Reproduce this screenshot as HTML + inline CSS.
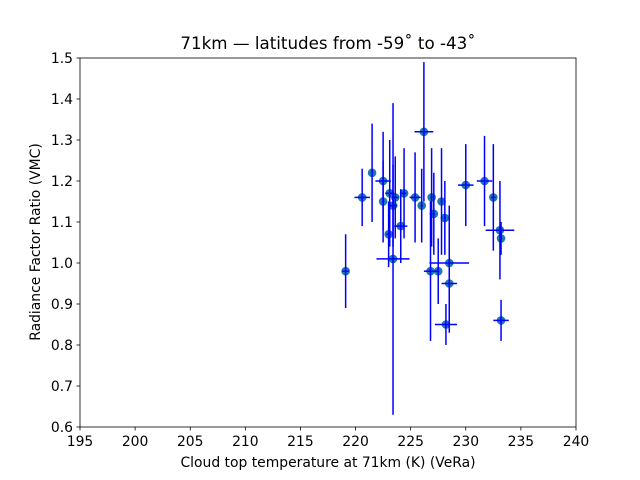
<!DOCTYPE html>
<html><head><meta charset="utf-8"><style>
body{margin:0;background:#fff;}
svg{display:block;font-family:"DejaVu Sans","Liberation Sans",sans-serif;}
</style></head><body>
<svg id="chart" width="640" height="480" viewBox="0 0 640 480">
<rect width="640" height="480" fill="#fff"/>
<g id="marks"></g>
<g id="axes"></g>
<text x="328" y="49" text-anchor="middle" font-size="16.7">71km — latitudes from -59˚ to -43˚</text>
<text x="328" y="467" text-anchor="middle" font-size="13.9">Cloud top temperature at 71km (K) (VeRa)</text>
<text transform="translate(40,242) rotate(-90)" text-anchor="middle" font-size="13.9">Radiance Factor Ratio (VMC)</text>
</svg>
<script>
const xVals=[219.1,220.6,221.5,222.5,222.5,223.1,223.6,223.4,223.4,223.0,224.1,224.4,225.4,226.0,226.2,226.9,227.1,227.8,228.1,226.8,227.5,228.5,228.5,228.2,230.0,231.7,232.5,233.1,233.2,233.2];
const yVals=[0.98,1.16,1.22,1.20,1.15,1.17,1.16,1.14,1.01,1.07,1.09,1.17,1.16,1.14,1.32,1.16,1.12,1.15,1.11,0.98,0.98,1.00,0.95,0.85,1.19,1.20,1.16,1.08,1.06,0.86];
const yErr=[0.09,0.07,0.12,0.12,0.10,0.13,0.10,0.10,0.38,0.08,0.09,0.11,0.11,0.09,0.17,0.12,0.10,0.13,0.09,0.17,0.08,0.14,0.12,0.05,0.10,0.11,0.13,0.12,0.04,0.05];
const xErr=[0.3,0.7,0,0.7,0.1,0.4,0.3,0.4,1.5,0.2,0.6,0.2,0.5,0.1,0.85,0.1,0.1,0.1,0.1,0.6,0.1,1.8,0.7,1.0,0.7,0.7,0.2,1.3,0.1,0.7];
const xTicks=[195,200,205,210,215,220,225,230,235,240];
const yTicks=[0.6,0.7,0.8,0.9,1.0,1.1,1.2,1.3,1.4,1.5];
const L=80,R=576,T=58,B=427,xMin=195,xMax=240,yMin=0.6,yMax=1.5;
const sx=v=>L+(v-xMin)/(xMax-xMin)*(R-L);
const sy=v=>B-(v-yMin)/(yMax-yMin)*(B-T);
const NS='http://www.w3.org/2000/svg';
function mk(tag,attrs,parent){const e=document.createElementNS(NS,tag);for(const k in attrs)e.setAttribute(k,attrs[k]);parent.appendChild(e);return e;}
const marks=document.getElementById('marks'),axes=document.getElementById('axes');
xVals.forEach((x,i)=>{
  const c=mk('circle',{cx:sx(x),cy:sy(yVals[i]),r:4.3,fill:'#1f77b4'},marks);
  
  
});
xVals.forEach((x,i)=>{
  const v=mk('line',{x1:sx(x),x2:sx(x),y1:sy(yVals[i]-yErr[i]),y2:sy(yVals[i]+yErr[i]),stroke:'#0000ff','stroke-width':1.5},marks);
  
  
  if(xErr[i]>0){
    const h=mk('line',{x1:sx(x-xErr[i]),x2:sx(x+xErr[i]),y1:sy(yVals[i]),y2:sy(yVals[i]),stroke:'#0000ff','stroke-width':1.5},marks);
    
    
  }
});
const f=mk('rect',{x:L,y:T,width:R-L,height:B-T,fill:'none',stroke:'#000','stroke-width':0.8},axes);


xTicks.forEach(t=>{
  mk('line',{x1:sx(t),x2:sx(t),y1:B,y2:B+3.5,stroke:'#000','stroke-width':0.8},axes);
  const tx=mk('text',{x:sx(t),y:B+19,'text-anchor':'middle','font-size':13.9},axes);
  tx.textContent=t;
  
  
});
yTicks.forEach(t=>{
  mk('line',{x1:L-3.5,x2:L,y1:sy(t),y2:sy(t),stroke:'#000','stroke-width':0.8},axes);
  const tx=mk('text',{x:L-7,y:sy(t)+5,'text-anchor':'end','font-size':13.9},axes);
  tx.textContent=t.toFixed(1);
  
  
});
</script>
</body></html>
